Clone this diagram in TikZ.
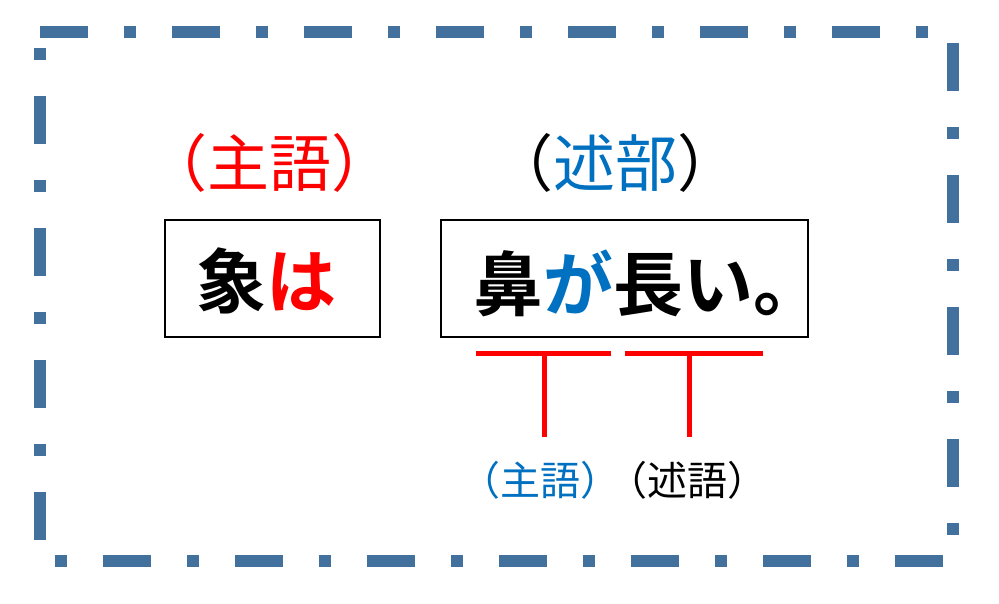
\documentclass[tikz,border=0pt]{standalone}
\usepackage{fontspec}
\newfontfamily\cjk{Noto Sans CJK JP}
\newfontfamily\cjkb{Noto Sans CJK JP Bold}
\definecolor{frameblue}{RGB}{65,113,156}
\definecolor{textblue}{RGB}{0,112,192}
\definecolor{textred}{RGB}{255,0,0}
\begin{document}
\begin{tikzpicture}[x=1pt,y=-1pt,
  frame/.style={draw=frameblue,line width=12pt,line cap=butt,dash pattern=on 48pt off 36pt on 12pt off 36pt},
  wordbox/.style={draw=black,line width=2pt,rectangle,inner sep=0pt},
  bigtext/.style={inner sep=0pt,font=\cjkb\fontsize{70}{80}\selectfont},
  toplabel/.style={inner sep=0pt,font=\cjk\fontsize{62}{70}\selectfont},
  sublabel/.style={inner sep=0pt,font=\cjk\fontsize{40}{48}\selectfont},
  bracket/.style={draw=textred,line width=5pt,line cap=butt}
]
\useasboundingbox (0,0) rectangle (999,603);
\fill[white] (0,0) rectangle (999,603);
% dash-dot frame
\draw[frame] (40,32) -- (953,32) -- (953,561) -- (40,561) -- cycle;
% boxes
\node[wordbox,minimum width=215pt,minimum height=117pt] (box1) at (272.5,278.5) {};
\node[wordbox,minimum width=367pt,minimum height=117pt] (box2) at (624.5,278.5) {};
\node[bigtext] (t1) at (266,281) {象\textcolor{textred}{は}};
\node[bigtext,anchor=west] (t2) at (473,283) {鼻\textcolor{textblue}{が}長い。};
% top labels
\node[toplabel,text=textred] (l1) at (269.5,163) {（主語）};
\node[toplabel] (l2) at (615,163) {（\textcolor{textblue}{述部}）};
% brackets
\coordinate (h1l) at (476,353.5);
\coordinate (h1r) at (611,353.5);
\coordinate (v1t) at (544.5,353.5);
\coordinate (v1b) at (544.5,437);
\coordinate (h2l) at (625,353.5);
\coordinate (h2r) at (763,353.5);
\coordinate (v2t) at (689.5,353.5);
\coordinate (v2b) at (689.5,437);
\draw[bracket] (h1l) -- (h1r);
\draw[bracket] (v1t) -- (v1b);
\draw[bracket] (h2l) -- (h2r);
\draw[bracket] (v2t) -- (v2b);
% sub labels
\node[sublabel,text=textblue] (s1) at (540,480) {（主語）};
\node[sublabel] (s2) at (687,480) {（述語）};
\end{tikzpicture}
\end{document}
